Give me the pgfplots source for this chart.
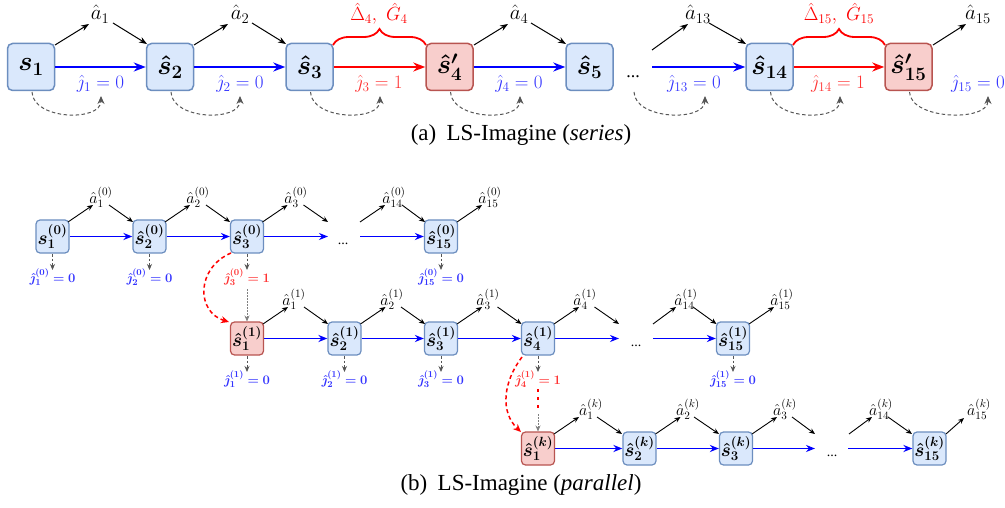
\RequirePackage{fix-cm}
\documentclass[border=0pt]{standalone}
\usepackage[no-math]{fontspec}
\usepackage{amsmath,bm}
\usepackage{pgfplots}
\pgfplotsset{compat=1.18}
\usetikzlibrary{arrows.meta,decorations.pathreplacing}
\newfontfamily\capfont{Liberation Serif}
\definecolor{bfill}{HTML}{DAE8FC}
\definecolor{bdraw}{HTML}{6C8EBF}
\definecolor{rfill}{HTML}{F8CECC}
\definecolor{rdraw}{HTML}{B85450}
\definecolor{lblue}{HTML}{3333FF}
\definecolor{lred}{HTML}{FF3333}
\definecolor{dgrey}{HTML}{555555}
\newcommand{\fa}{\fontsize{19}{21}\selectfont}
\newcommand{\faa}{\fontsize{21}{23}\selectfont}
\newcommand{\fb}{\fontsize{13}{15}\selectfont}
\newcommand{\fbb}{\fontsize{16}{18}\selectfont}
\tikzset{
 ab/.style={draw=bdraw, fill=bfill, line width=1.5pt, rounded corners=5pt, minimum size=47pt, inner sep=0pt, font=\fontsize{27}{30}\selectfont},
 ar/.style={ab, draw=rdraw, fill=rfill},
 bb/.style={draw=bdraw, fill=bfill, line width=1.2pt, rounded corners=4pt, minimum size=33pt, inner sep=0pt, font=\fontsize{19}{21}\selectfont},
 br/.style={bb, draw=rdraw, fill=rfill},
 blueA/.style={draw=blue, line width=2.2pt, -{Stealth[length=12pt,width=9pt]}},
 redA/.style={draw=red, line width=2.2pt, -{Stealth[length=12pt,width=9pt]}},
 blkA/.style={draw=black, line width=1pt, -{Stealth[length=8pt,width=6pt]}},
 dashA/.style={draw=dgrey, line width=1pt, dash pattern=on 3.5pt off 2.5pt, -{Stealth[length=8pt,width=7pt]}},
 blueB/.style={draw=blue, line width=1.6pt, -{Stealth[length=9pt,width=7pt]}},
 blkB/.style={draw=black, line width=0.9pt, -{Stealth[length=6pt,width=5pt]}},
 dashB/.style={draw=dgrey, line width=0.8pt, dash pattern=on 2.5pt off 2pt, -{Stealth[length=6pt,width=5pt]}},
 la/.style={anchor=base, font=\fa},
 laa/.style={anchor=base, font=\faa},
 lb/.style={anchor=base, font=\fb},
 lbb/.style={anchor=base, font=\fbb},
}
\begin{document}
\begin{tikzpicture}
\begin{axis}[width=1005pt, height=508pt, scale only axis, xmin=0, xmax=1005, ymin=0, ymax=508, y dir=reverse, hide axis, clip=false]
\coordinate (SW) at (0,508);
\coordinate (NE) at (1005,0);
% ================= (a) series =================
\node[ab] (A1) at (31,67) {$\bm{s_1}$};
\node[ab] (A2) at (170,67) {$\bm{\hat{s}_2}$};
\node[ab] (A3) at (309.5,67) {$\bm{\hat{s}_3}$};
\node[ar] (A4) at (449.5,67) {$\bm{\hat{s}'_4}$};
\node[ab] (A5) at (589.5,67) {$\bm{\hat{s}_5}$};
\node[ab] (A14) at (769.5,67) {$\bm{\hat{s}_{14}}$};
\node[ar] (A15) at (908.5,67) {$\bm{\hat{s}'_{15}}$};
\draw[blueA] (A1.east) -- (A2.west);
\draw[blueA] (A2.east) -- (A3.west);
\draw[redA] (A3.east) -- (A4.west);
\draw[blueA] (A4.east) -- (A5.west);
\draw[blueA] (652,67) -- (A14.west);
\draw[redA] (A14.east) -- (A15.west);
\node[anchor=base, font=\fontsize{18}{20}\capfont] at (633,78) {...};
% j labels
\node[la, text=lblue] at (100.5,89) {$\hat{\jmath}_1 = 0$};
\node[la, text=lblue] at (240,89) {$\hat{\jmath}_2 = 0$};
\node[la, text=lred] at (379,89) {$\hat{\jmath}_3 = 1$};
\node[la, text=lblue] at (519,89) {$\hat{\jmath}_4 = 0$};
\node[la, text=lblue] at (694,89) {$\hat{\jmath}_{13} = 0$};
\node[la, text=lred] at (838,89) {$\hat{\jmath}_{14} = 1$};
\node[la, text=lblue] at (978,89) {$\hat{\jmath}_{15} = 0$};
% a labels
\node[laa] at (100,20) {$\hat{a}_1$};
\node[laa] at (240,20) {$\hat{a}_2$};
\node[laa] at (519,20) {$\hat{a}_4$};
\node[laa] at (698,20) {$\hat{a}_{13}$};
\node[laa] at (978,20) {$\hat{a}_{15}$};
\draw[blkA] (55,45) -- (89,24);
\draw[blkA] (113,23) -- (147,44);
\draw[blkA] (194,45) -- (228,24);
\draw[blkA] (252,23) -- (286,44);
\draw[blkA] (474,45) -- (508,24);
\draw[blkA] (531,23) -- (566,44);
\draw[blkA] (652,50) -- (688,24);
\draw[blkA] (709,23) -- (746,44);
\draw[blkA] (933,45) -- (966,24);
% braces
\draw[red, line width=1.8pt, decorate, decoration={brace, amplitude=16pt}] (333,45) -- (426,45);
\node[la, text=red] at (379,21) {$\hat{\Delta}_4,\ \hat{G}_4$};
\draw[red, line width=1.8pt, decorate, decoration={brace, amplitude=16pt}] (793,45) -- (885,45);
\node[la, text=red] at (839,21) {$\hat{\Delta}_{15},\ \hat{G}_{15}$};
% dashed curves
\draw[dashA] (32,92) .. controls (33,120) and (101,122) .. (101,96);
\draw[dashA] (171,92) .. controls (172,120) and (240,122) .. (240,96);
\draw[dashA] (310.5,92) .. controls (311.5,120) and (380,122) .. (380,96);
\draw[dashA] (450.5,92) .. controls (451.5,120) and (520,122) .. (520,96);
\draw[dashA] (634,92) .. controls (635,120) and (705,122) .. (705,96);
\draw[dashA] (770.5,92) .. controls (771.5,120) and (840,122) .. (840,96);
\draw[dashA] (909.5,92) .. controls (910.5,120) and (988,122) .. (988,96);
\node[anchor=base, font=\fontsize{23}{26}\capfont] at (521,141) {(a)\hspace{0.45em}LS-Imagine (\textit{series})};
% ================= (b) parallel =================
% row 0
\node[bb] (B01) at (52.5,236.5) {$\bm{s^{(0)}_1}$};
\node[bb] (B02) at (149.5,236.5) {$\bm{\hat{s}^{(0)}_2}$};
\node[bb] (B03) at (247,236.5) {$\bm{\hat{s}^{(0)}_3}$};
\node[bb] (B015) at (441,236.5) {$\bm{\hat{s}^{(0)}_{15}}$};
\draw[blueB] (B01.east) -- (B02.west);
\draw[blueB] (B02.east) -- (B03.west);
\draw[blueB] (B03.east) -- (328,236.5);
\draw[blueB] (360,236.5) -- (B015.west);
\node[anchor=base, font=\fontsize{14}{16}\capfont] at (343,244) {...};
\draw[blkB] (68,222) -- (93,205);
\draw[blkB] (109,205) -- (133,222);
\draw[blkB] (165,222) -- (190,205);
\draw[blkB] (206,205) -- (230,222);
\draw[blkB] (262.5,222) -- (287.5,205);
\draw[blkB] (303.5,205) -- (328,222);
\draw[blkB] (360,222) -- (385,205);
\draw[blkB] (402,205) -- (425,222);
\draw[blkB] (457,222) -- (482,205);
\node[lbb] at (101,203.5) {$\hat{a}^{(0)}_1$};
\node[lbb] at (198,203.5) {$\hat{a}^{(0)}_2$};
\node[lbb] at (296,203.5) {$\hat{a}^{(0)}_3$};
\node[lbb] at (394,203.5) {$\hat{a}^{(0)}_{14}$};
\node[lbb] at (490,203.5) {$\hat{a}^{(0)}_{15}$};
\draw[dashB] (52.5,254) -- (52.5,270);
\draw[dashB] (149.5,254) -- (149.5,270);
\draw[dashB] (247,254) -- (247,270);
\draw[dashB] (441,254) -- (441,270);
\node[lb, text=lblue] at (52.5,282) {$\bm{\hat{\jmath}^{(0)}_1 = 0}$};
\node[lb, text=lblue] at (149.5,282) {$\bm{\hat{\jmath}^{(0)}_2 = 0}$};
\node[lb, text=lred] at (247,282) {$\bm{\hat{\jmath}^{(0)}_3 = 1}$};
\node[lb, text=lblue] at (441,282) {$\bm{\hat{\jmath}^{(0)}_{15} = 0}$};
\draw[red, line width=1.5pt, dash pattern=on 4pt off 3pt, -{Stealth[length=8pt,width=7pt]}] (231,253) .. controls (196,268) and (196,312) .. (229,322);
\draw[gray, line width=0.8pt, dash pattern=on 1.5pt off 1.5pt, -{Stealth[length=6pt,width=5pt]}] (247,289) -- (247,321.5);
% row 1
\node[br] (B11) at (247,338.5) {$\bm{\hat{s}^{(1)}_1}$};
\node[bb] (B12) at (344.5,338.5) {$\bm{\hat{s}^{(1)}_2}$};
\node[bb] (B13) at (441,338.5) {$\bm{\hat{s}^{(1)}_3}$};
\node[bb] (B14) at (538,338.5) {$\bm{\hat{s}^{(1)}_4}$};
\node[bb] (B115) at (733,338.5) {$\bm{\hat{s}^{(1)}_{15}}$};
\draw[blueB] (B11.east) -- (B12.west);
\draw[blueB] (B12.east) -- (B13.west);
\draw[blueB] (B13.east) -- (B14.west);
\draw[blueB] (B14.east) -- (619,338.5);
\draw[blueB] (653,338.5) -- (B115.west);
\node[anchor=base, font=\fontsize{14}{16}\capfont] at (636,346) {...};
\draw[blkB] (263,324) -- (288,307);
\draw[blkB] (304,307) -- (328,324);
\draw[blkB] (360.5,324) -- (385.5,307);
\draw[blkB] (401,307) -- (425,324);
\draw[blkB] (457,324) -- (482,307);
\draw[blkB] (497.5,307) -- (521.5,324);
\draw[blkB] (554,324) -- (579,307);
\draw[blkB] (594.5,307) -- (619,324);
\draw[blkB] (653,324) -- (676,307);
\draw[blkB] (693,307) -- (716.5,324);
\draw[blkB] (749,324) -- (774,307);
\node[lbb] at (294,305.5) {$\hat{a}^{(1)}_1$};
\node[lbb] at (392,305.5) {$\hat{a}^{(1)}_2$};
\node[lbb] at (488,305.5) {$\hat{a}^{(1)}_3$};
\node[lbb] at (585,305.5) {$\hat{a}^{(1)}_4$};
\node[lbb] at (686,305.5) {$\hat{a}^{(1)}_{14}$};
\node[lbb] at (782,305.5) {$\hat{a}^{(1)}_{15}$};
\draw[dashB] (247,356) -- (247,372);
\draw[dashB] (344.5,356) -- (344.5,372);
\draw[dashB] (441,356) -- (441,372);
\draw[dashB] (538,356) -- (538,372);
\draw[dashB] (733,356) -- (733,372);
\node[lb, text=lblue] at (247,384) {$\bm{\hat{\jmath}^{(1)}_1 = 0}$};
\node[lb, text=lblue] at (344.5,384) {$\bm{\hat{\jmath}^{(1)}_2 = 0}$};
\node[lb, text=lblue] at (441,384) {$\bm{\hat{\jmath}^{(1)}_3 = 0}$};
\node[lb, text=lred] at (538,384) {$\bm{\hat{\jmath}^{(1)}_4 = 1}$};
\node[lb, text=lblue] at (733,384) {$\bm{\hat{\jmath}^{(1)}_{15} = 0}$};
\draw[red, line width=1.5pt, dash pattern=on 4pt off 3pt, -{Stealth[length=8pt,width=7pt]}] (522,357) .. controls (503,382) and (500,412) .. (521,432);
\draw[red, line width=2.5pt, dash pattern=on 3pt off 5pt] (538,389) -- (538,412);
\draw[gray, line width=0.8pt, dash pattern=on 1.5pt off 1.5pt, -{Stealth[length=6pt,width=5pt]}] (538,414) -- (538,431.5);
% row k
\node[br] (Bk1) at (538,448.5) {$\bm{\hat{s}^{(k)}_1}$};
\node[bb] (Bk2) at (639.5,448.5) {$\bm{\hat{s}^{(k)}_2}$};
\node[bb] (Bk3) at (736,448.5) {$\bm{\hat{s}^{(k)}_3}$};
\node[bb] (Bk15) at (929.5,448.5) {$\bm{\hat{s}^{(k)}_{15}}$};
\draw[blueB] (Bk1.east) -- (Bk2.west);
\draw[blueB] (Bk2.east) -- (Bk3.west);
\draw[blueB] (Bk3.east) -- (815,448.5);
\draw[blueB] (848,448.5) -- (Bk15.west);
\node[anchor=base, font=\fontsize{14}{16}\capfont] at (832,456) {...};
\draw[blkB] (554,434) -- (579,417);
\draw[blkB] (597,417) -- (622,434);
\draw[blkB] (655.5,434) -- (680.5,417);
\draw[blkB] (694,417) -- (719,434);
\draw[blkB] (752,434) -- (777,417);
\draw[blkB] (792,417) -- (815,434);
\draw[blkB] (849,434) -- (872,417);
\draw[blkB] (888,417) -- (912,434);
\draw[blkB] (946,434) -- (964,418);
\node[lbb] at (591,415.5) {$\hat{a}^{(k)}_1$};
\node[lbb] at (688,415.5) {$\hat{a}^{(k)}_2$};
\node[lbb] at (785,415.5) {$\hat{a}^{(k)}_3$};
\node[lbb] at (881,415.5) {$\hat{a}^{(k)}_{14}$};
\node[lbb] at (979,415.5) {$\hat{a}^{(k)}_{15}$};
\node[anchor=base, font=\fontsize{23}{26}\capfont] at (521,490) {(b)\hspace{0.45em}LS-Imagine (\textit{parallel})};
\end{axis}
\pgfresetboundingbox
\useasboundingbox (SW) rectangle (NE);
\end{tikzpicture}
\end{document}
